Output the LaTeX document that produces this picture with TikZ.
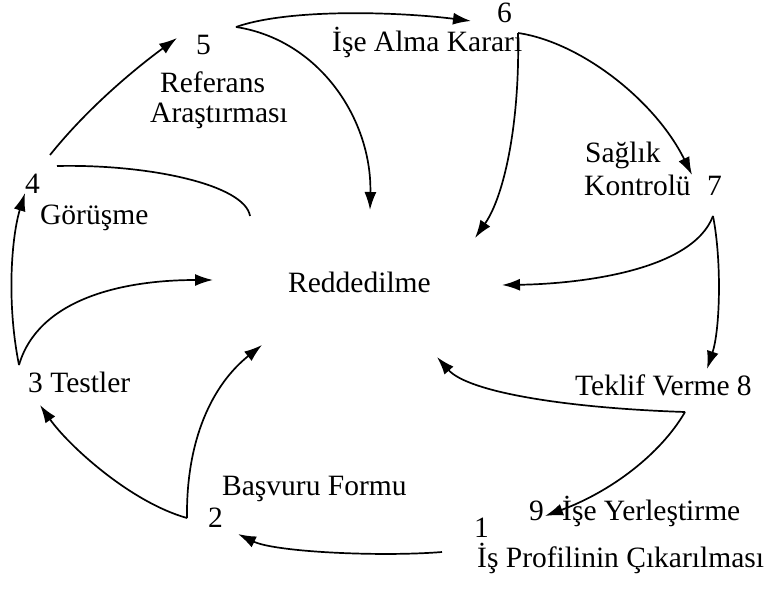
\documentclass[tikz,border=0pt]{standalone}
\usepackage{fontspec}
\setmainfont{Liberation Serif}
\usetikzlibrary{arrows.meta}

\begin{document}
\begin{tikzpicture}[x=1pt,y=-1pt,
  lbl/.style={inner sep=0pt, anchor=base west, font=\fontsize{29.5}{31}\selectfont},
  flow/.style={line width=1.7pt, -{Latex[length=18pt,width=12pt]}},
  link/.style={line width=1.7pt}]
  \useasboundingbox (0,0) rectangle (775,612);

  % Stages
  \node[lbl] (n1) at (474,537) {1};
  \node[lbl] (t1) at (477,567) {İş Profilinin Çıkarılması};
  \node[lbl] (n2) at (208,527) {2};
  \node[lbl] (t2) at (222,495) {Başvuru Formu};
  \node[lbl] (n3) at (28,392) {3 Testler};
  \node[lbl] (n4) at (25,194) {4};
  \node[lbl] (t4) at (40,225) {Görüşme};
  \node[lbl] (n5) at (196,55) {5};
  \node[lbl] (t5a) at (160,93) {Referans};
  \node[lbl] (t5b) at (150,123) {Araştırması};
  \node[lbl] (n6) at (497,23) {6};
  \node[lbl] (t6) at (332,52) {İşe Alma Kararı};
  \node[lbl] (t7a) at (585,163) {Sağlık};
  \node[lbl] (t7b) at (584,196) {Kontrolü};
  \node[lbl] (n7) at (707,196) {7};
  \node[lbl] (n8) at (575,395) {Teklif Verme 8};
  \node[lbl] (n9) at (529,520) {9};
  \node[lbl] (t9) at (562,520) {İşe Yerleştirme};

  % Rejection
  \node[lbl] (red) at (288,292) {Reddedilme};

  % Arrow ends
  \coordinate (o1) at (442,552);
  \coordinate (i2) at (238,534);
  \coordinate (o2) at (187,518);
  \coordinate (i3) at (40,405);
  \coordinate (o3) at (19,365);
  \coordinate (i4) at (25,193);
  \coordinate (o4) at (50,155);
  \coordinate (e4) at (57,166);
  \coordinate (i5) at (177,38);
  \coordinate (o5) at (236,27);
  \coordinate (i6) at (471,21);
  \coordinate (o6) at (518,33);
  \coordinate (i7) at (692,175);
  \coordinate (o7) at (713,216);
  \coordinate (i8) at (707,369);
  \coordinate (o8) at (685,412);
  \coordinate (i9) at (545,516);
  \coordinate (r2) at (262,345);
  \coordinate (r3) at (213,280);
  \coordinate (r4) at (250,216);
  \coordinate (r5) at (370,210);
  \coordinate (r6) at (475,238);
  \coordinate (r7) at (502,285);
  \coordinate (r8) at (437,357);

  % Cycle
  \draw[flow] (o1) .. controls (380,557) and (275,552) .. (i2);
  \draw[flow] (o2) .. controls (130,502) and (68,445) .. (i3);
  \draw[flow] (o3) .. controls (6,300) and (12,235) .. (i4);
  \draw[flow] (o4) .. controls (90,105) and (140,65) .. (i5);
  \draw[flow] (o5) .. controls (290,8) and (400,12) .. (i6);
  \draw[flow] (o6) .. controls (580,42) and (655,100) .. (i7);
  \draw[flow] (o7) .. controls (722,262) and (720,330) .. (i8);
  \draw[flow] (o8) .. controls (660,455) and (610,492) .. (i9);

  % Into rejection
  \draw[flow] (o2) .. controls (186,440) and (212,385) .. (r2);
  \draw[flow] (o3) .. controls (38,300) and (120,280) .. (r3);
  \draw[link] (e4) .. controls (150,164) and (245,185) .. (r4);
  \draw[flow] (o5) .. controls (320,40) and (372,120) .. (r5);
  \draw[flow] (o6) .. controls (520,120) and (505,195) .. (r6);
  \draw[flow] (o7) .. controls (692,272) and (575,284) .. (r7);
  \draw[flow] (o8) .. controls (565,408) and (468,392) .. (r8);
\end{tikzpicture}
\end{document}
